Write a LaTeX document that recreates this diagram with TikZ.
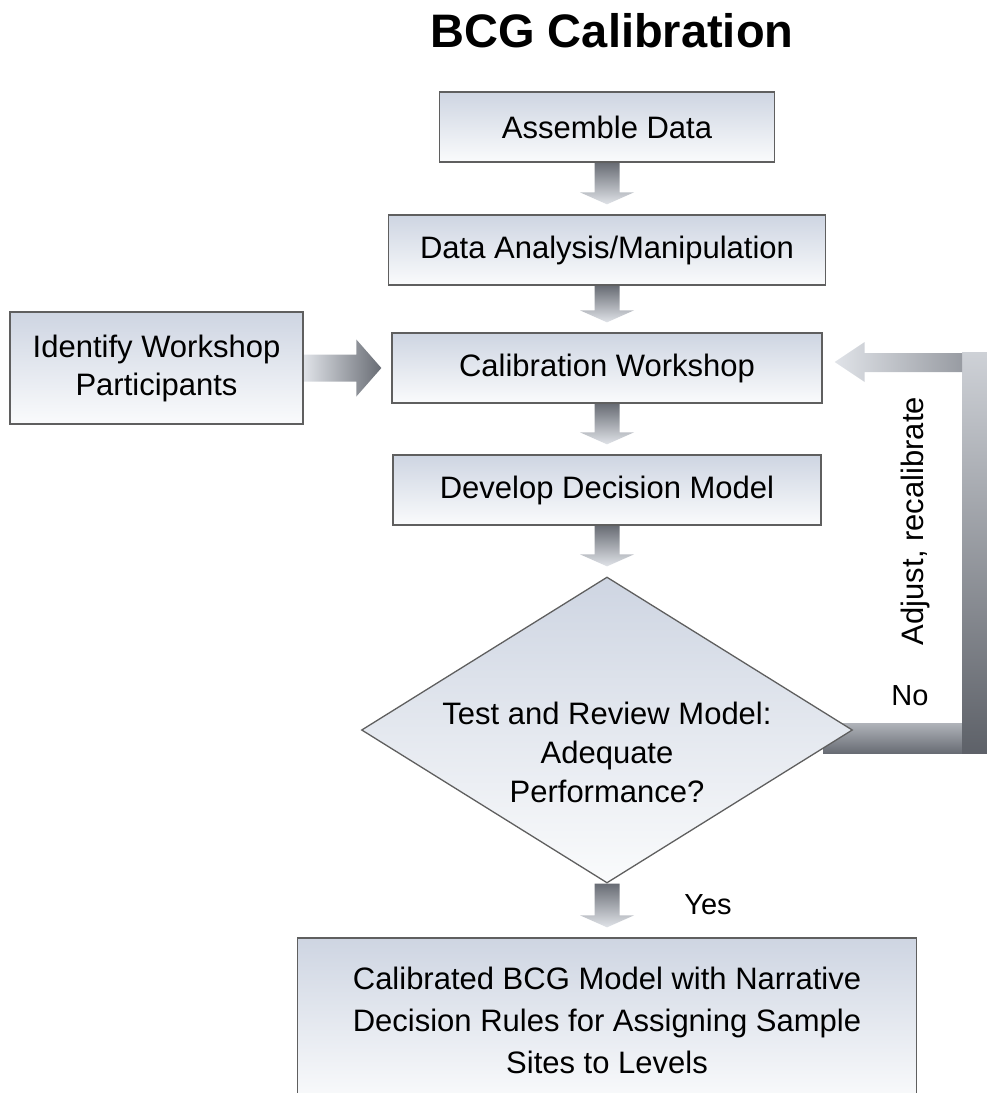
\documentclass[tikz,border=0pt]{standalone}
\usepackage{fontspec}
\setmainfont{Liberation Sans}
\usetikzlibrary{calc,shapes.geometric}

\definecolor{boxtop}{RGB}{206,213,226}
\definecolor{boxbot}{RGB}{250,251,252}
\definecolor{boxline}{RGB}{95,95,95}
\definecolor{arrdark}{RGB}{104,108,116}
\definecolor{arrlight}{RGB}{224,227,232}

\pgfdeclarelayer{bg}
\pgfsetlayers{bg,main}

\tikzset{
  stepbox/.style={rectangle, draw=boxline, line width=1.3pt, top color=boxtop,
    bottom color=boxbot, inner sep=0pt, align=center, font=\fontsize{31}{38}\selectfont},
  testbox/.style={diamond, draw=boxline, line width=1.3pt, top color=boxtop,
    bottom color=boxbot, inner sep=0pt},
  lbl/.style={font=\fontsize{29}{34}\selectfont, inner sep=0pt}
}

% block arrow from one node down to the next
\newcommand{\blockdown}[2]{%
  \shade[top color=arrdark, bottom color=arrlight]
    ($(#1.south)+(-12.5,0)$) -- ($(#2.north)+(-12.5,-22)$) -- ($(#2.north)+(-27,-22)$)
    -- ($(#2.north)+(0,-10)$) -- ($(#2.north)+(27,-22)$) -- ($(#2.north)+(12.5,-22)$)
    -- ($(#1.south)+(12.5,0)$) -- cycle;}

\begin{document}
\begin{tikzpicture}[x=1pt,y=-1pt]
\useasboundingbox (0,0) rectangle (987,1093);
\clip (0,0) rectangle (987,1093);

% titre
\node[font=\fontsize{47}{56}\selectfont\bfseries] (title) at (612,31) {BCG Calibration};

% colonne principale
\node[stepbox, minimum width=335pt, minimum height=70pt] (assemble) at (607,127) {Assemble Data};
\node[stepbox, minimum width=437pt, minimum height=70pt] (analysis) at (607,250) {Data Analysis/Manipulation};
\node[stepbox, minimum width=430pt, minimum height=70pt] (calib) at (607,368) {Calibration Workshop};
\node[stepbox, minimum width=428pt, minimum height=70pt] (develop) at (607,490) {Develop Decision Model};
\node[testbox, minimum width=491pt, minimum height=306pt] (test) at (607,730) {};
\node[align=center, font=\fontsize{31}{39}\selectfont, inner sep=0pt] (testtxt) at ($(test.center)+(0,22)$)
  {Test and Review Model:\\Adequate\\Performance?};
\node[stepbox, minimum width=619pt, minimum height=164pt, font=\fontsize{31}{42}\selectfont] (result) at (607,1020)
  {Calibrated BCG Model with Narrative\\Decision Rules for Assigning Sample\\Sites to Levels};

% boite de gauche
\node[stepbox, minimum width=293pt, minimum height=112pt] (identify) at (156.5,368) {Identify Workshop\\Participants};

% etiquettes
\node[lbl] (no) at (910,696) {No};
\node[lbl] (yes) at (708,905) {Yes};
\node[lbl, rotate=90, font=\fontsize{31}{36}\selectfont] (adjust) at (915,521) {Adjust, recalibrate};

\begin{pgfonlayer}{bg}
\blockdown{assemble}{analysis}
\blockdown{analysis}{calib}
\blockdown{calib}{develop}
\blockdown{develop}{test}
\blockdown{test}{result}

% participants -> workshop
\shade[left color=arrlight, right color=arrdark]
  ($(identify.east)+(0,-13.5)$) -- ($(calib.west)+(-35,-13.5)$) -- ($(calib.west)+(-35,-28.5)$)
  -- ($(calib.west)+(-10,0)$) -- ($(calib.west)+(-35,28.5)$) -- ($(calib.west)+(-35,13.5)$)
  -- ($(identify.east)+(0,13.5)$) -- cycle;

% boucle "No" vers le workshop
\coordinate (backbar) at (974.5,730);
\shade[top color=arrlight!60!arrdark, middle color=arrlight, bottom color=arrdark]
  ($(test.east)+(-30,-7)$) rectangle ($(backbar)+(-12.5,23)$);
\shade[top color=arrlight!85!arrdark, bottom color=arrdark!90!black]
  ($(backbar |- calib.east)+(-12.5,-16)$) rectangle ($(backbar)+(16,23)$);
\shade[left color=arrlight, right color=arrlight!40!arrdark]
  ($(backbar |- calib.east)+(-12.5,-15)$) -- ($(calib.east)+(42,-15)$) -- ($(calib.east)+(42,-26)$)
  -- ($(calib.east)+(12,-6)$) -- ($(calib.east)+(42,14)$) -- ($(calib.east)+(42,4)$)
  -- ($(backbar |- calib.east)+(-12.5,4)$) -- cycle;
\end{pgfonlayer}
\end{tikzpicture}
\end{document}
